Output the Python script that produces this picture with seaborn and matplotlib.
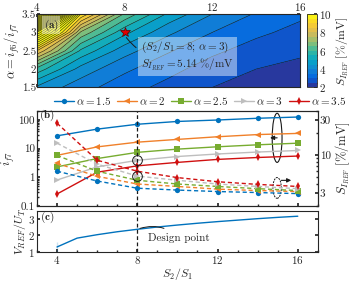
import numpy as np
import matplotlib
matplotlib.use("Agg")
import matplotlib.pyplot as plt
import seaborn as sns
from matplotlib.colors import LinearSegmentedColormap, Normalize
from matplotlib.patches import Ellipse
from matplotlib.ticker import MultipleLocator, LogLocator, NullFormatter

# --- data ---
ratio = [4, 6, 8, 10, 12, 14, 16]           # S2/S1
alphas = [1.5, 2, 2.5, 3, 3.5]
alpha_labels = [r"$\alpha = 1.5$", r"$\alpha = 2$", r"$\alpha = 2.5$", r"$\alpha = 3$", r"$\alpha = 3.5$"]

# i_f7 (left axis, solid)
if7_15 = [28, 48, 71, 89, 100, 115, 127]
if7_20 = [5.8, 11.5, 16.8, 21, 26, 31, 34]
if7_25 = [2.3, 4.5, 7.4, 9.6, 11.6, 13.6, 15.5]
if7_30 = [0.8, 2.3, 3.9, 5.3, 6.5, 7.6, 8.6]
if7_35 = [0.26, 1.5, 2.5, 3.3, 4.2, 4.9, 5.5]

# S_IREF [%/mV] (right axis, dashed)
s_15 = [6.0, 4.4, 3.5, 3.3, 3.15, 3.05, 2.95]
s_20 = [7.7, 5.1, 4.0, 3.7, 3.4, 3.25, 3.15]
s_25 = [9.9, 6.0, 4.5, 4.0, 3.7, 3.45, 3.25]
s_30 = [14.6, 7.5, 5.14, 4.5, 4.0, 3.7, 3.45]
s_35 = [27.5, 8.5, 6.0, 4.9, 4.3, 3.95, 3.7]

# contour map S_IREF(S2/S1, alpha), rows = alphas, cols = ratio
smap_15 = [4.4, 3.7, 3.2, 2.85, 2.5, 2.3, 2.15]
smap_20 = [5.8, 4.3, 3.6, 3.15, 2.78, 2.5, 2.35]
smap_25 = [8.5, 5.4, 4.2, 3.55, 3.1, 2.8, 2.6]
smap_30 = [13.0, 6.9, 5.14, 4.1, 3.5, 3.1, 2.85]
smap_35 = [22.0, 9.5, 6.4, 4.9, 4.0, 3.45, 3.1]

# V_REF/U_T
vref_x = [4, 4, 5, 6, 7, 8, 9, 10, 11, 12, 13, 14, 15, 16]
vref_y = [1.0, 1.56, 1.82, 2.03, 2.21, 2.36, 2.50, 2.62, 2.73, 2.83, 2.92, 3.01, 3.09, 3.16]

design_x, design_alpha, design_s, design_if7 = 8, 3, 5.14, 3.9

colors = ["#0072BD", "#F0802A", "#77AC30", "#BEBEBE", "#D01010"]
markers = ["o", "<", "s", ">", "d"]

sns.set_theme(style="ticks")
plt.rcParams["font.family"] = "serif"
plt.rcParams["font.serif"] = ["cmr10", "DejaVu Serif"]
plt.rcParams["mathtext.fontset"] = "cm"
plt.rcParams["axes.formatter.use_mathtext"] = True
plt.rcParams["font.size"] = 8
plt.rcParams["xtick.labelsize"] = 8
plt.rcParams["ytick.labelsize"] = 8
plt.rcParams["axes.linewidth"] = 0.8
plt.rcParams["xtick.direction"] = "in"
plt.rcParams["ytick.direction"] = "in"

parula = LinearSegmentedColormap.from_list("parula", [
    "#352a87", "#0363e1", "#1485d4", "#06a7c6", "#38b99e",
    "#92bf73", "#d9ba56", "#fcce2e", "#f9fb0e"])

fig = plt.figure(figsize=(3.52, 2.82), dpi=100)
axa = fig.add_axes([0.105, 0.69, 0.747, 0.26])
cax = fig.add_axes([0.872, 0.69, 0.028, 0.26])
axb = fig.add_axes([0.105, 0.27, 0.798, 0.335])
axc = fig.add_axes([0.105, 0.108, 0.798, 0.145])

# --- (a) contour map ---
Z = np.array([smap_15, smap_20, smap_25, smap_30, smap_35])
X, Y = np.meshgrid(ratio, alphas)
levels = np.arange(2, 22.5, 0.5)
norm = Normalize(vmin=2, vmax=10)
cf = axa.contourf(X, Y, Z, levels=levels, cmap=parula, norm=norm)
axa.contour(X, Y, Z, levels=levels, colors="k", linewidths=0.4)
axa.set_xlim(4, 16)
axa.set_ylim(1.5, 3.5)
axa.xaxis.tick_top()
axa.set_xticks([4, 8, 12, 16])
axa.xaxis.set_minor_locator(MultipleLocator(1))
axa.set_yticks([1.5, 2, 2.5, 3, 3.5])
axa.set_yticklabels(["1.5", "2", "2.5", "3", "3.5"])
axa.yaxis.set_minor_locator(MultipleLocator(0.1))
axa.tick_params(which="both", top=True, bottom=True, left=True, right=True, length=2.5, pad=0.5)
axa.tick_params(which="minor", length=1.5)
axa.set_ylabel(r"$\alpha = i_{f6}/i_{f7}$", fontsize=9, labelpad=0)
axa.text(4.3, 3.2, r"$\mathbf{(a)}$", fontsize=8, va="center",
         bbox=dict(boxstyle="square,pad=0.1", fc="white", ec="none", alpha=0.4))
axa.plot(design_x, design_alpha, marker="*", color="#E00000", markeredgecolor="#600000",
         markersize=7.5, markeredgewidth=0.5)
axa.annotate(r"$(S_2/S_1 = 8;\,\alpha = 3)$" + "\n" + r"$S_{I_{REF}} = 5.14\ \%/\mathrm{mV}$",
             xy=(design_x, design_alpha - 0.08), xytext=(8.75, 2.35),
             fontsize=8, va="center", ha="left",
             bbox=dict(boxstyle="square,pad=0.25", fc="white", ec="none", alpha=0.45),
             arrowprops=dict(arrowstyle="-", color="k", lw=0.7,
                             connectionstyle="arc3,rad=-0.35"))
cb = fig.colorbar(cf, cax=cax, ticks=[2, 4, 6, 8, 10])
cax.set_ylim(2, 10)
cax.tick_params(length=2, pad=1.5)
cax.yaxis.set_minor_locator(MultipleLocator(0.5))
cb.set_label(r"$S_{I_{REF}}\ [\%/\mathrm{mV}]$", fontsize=8.5, labelpad=2)
cb.outline.set_linewidth(0.6)

# --- (b) i_f7 and S_IREF ---
axb2 = axb.twinx()
if7_all = [if7_15, if7_20, if7_25, if7_30, if7_35]
s_all = [s_15, s_20, s_25, s_30, s_35]
for i in range(len(alphas)):
    sns.lineplot(x=ratio, y=if7_all[i], ax=axb, color=colors[i], marker=markers[i],
                 markersize=3.8, markeredgewidth=0, linewidth=1.0, label=alpha_labels[i])
    sns.lineplot(x=ratio, y=s_all[i], ax=axb2, color=colors[i], marker=markers[i],
                 markersize=3.8, markeredgewidth=0, linewidth=1.0, linestyle=(0, (3, 2)))
axb.set_yscale("log")
axb2.set_yscale("log")
axb.set_ylim(0.1, 200)
axb2.set_ylim(2, 40)
axb.set_xlim(3, 17)
axb.set_yticks([0.1, 1, 10, 100])
axb.set_yticklabels(["0.1", "1", "10", "100"])
axb.yaxis.set_minor_locator(LogLocator(base=10, subs=np.arange(2, 10)))
axb.yaxis.set_minor_formatter(NullFormatter())
axb2.set_yticks([3, 10, 30])
axb2.set_yticklabels(["3", "10", "30"])
axb2.yaxis.set_minor_locator(LogLocator(base=10, subs=np.arange(2, 10)))
axb2.yaxis.set_minor_formatter(NullFormatter())
axb.set_xticks([4, 8, 12, 16])
axb.set_xticklabels([])
axb.xaxis.set_minor_locator(MultipleLocator(1))
axb.tick_params(which="both", length=2.5, pad=1.5)
axb.tick_params(which="minor", length=1.5)
axb2.tick_params(which="both", direction="in", length=2.5, pad=1.5)
axb2.tick_params(which="minor", length=1.5)
axb.set_ylabel(r"$i_{f7}$", fontsize=9, labelpad=1)
axb2.set_ylabel(r"$S_{I_{REF}}\ [\%/\mathrm{mV}]$", fontsize=9, labelpad=2)
axb.axvline(design_x, color="k", linestyle=(0, (3, 2)), linewidth=0.9)
axb.plot(design_x, design_if7, marker="o", markersize=7, markerfacecolor="none",
         markeredgecolor="k", markeredgewidth=0.7)
axb2.plot(design_x, design_s, marker="o", markersize=7, markerfacecolor="none",
          markeredgecolor="k", markeredgewidth=0.7)
axb.text(3.1, 140, r"$\mathbf{(b)}$", fontsize=8, va="center")
axb.legend(loc="lower center", bbox_to_anchor=(0.58, 0.99), ncol=5, frameon=False,
           fontsize=8, handlelength=1.8, handletextpad=0.2, columnspacing=0.5,
           borderaxespad=0.1)
# loops with arrows marking which axis each line set belongs to
axb.add_patch(Ellipse((0.855, 0.72), 0.035, 0.52, transform=axb.transAxes,
                      fill=False, color="k", lw=0.8))
axb.annotate("", xy=(0.82, 0.72), xytext=(0.865, 0.72), xycoords="axes fraction",
             arrowprops=dict(arrowstyle="-|>", color="k", lw=0.8, mutation_scale=6))
axb.add_patch(Ellipse((0.855, 0.19), 0.03, 0.22, transform=axb.transAxes,
                      fill=False, color="k", lw=0.7, linestyle=(0, (2, 1))))
axb.annotate("", xy=(0.915, 0.27), xytext=(0.86, 0.27), xycoords="axes fraction",
             arrowprops=dict(arrowstyle="-|>", color="k", lw=0.8, mutation_scale=6))

# --- (c) V_REF/U_T ---
sns.lineplot(x=vref_x, y=vref_y, ax=axc, color=colors[0], linewidth=1.0, sort=False)
axc.set_xlim(3, 17)
axc.set_ylim(1, 3.5)
axc.set_yticks([1, 2, 3])
axc.set_xticks([4, 8, 12, 16])
axc.xaxis.set_minor_locator(MultipleLocator(1))
axc.tick_params(which="both", left=True, right=True, length=2.5, pad=1.5)
axc.tick_params(which="minor", length=1.5)
axc.axvline(design_x, color="k", linestyle=(0, (3, 2)), linewidth=0.9)
axc.text(3.15, 3.1, r"$\mathbf{(c)}$", fontsize=8, va="center")
axc.annotate("Design point", xy=(design_x, 2.36), xytext=(8.55, 1.85), fontsize=8,
             va="center", ha="left",
             arrowprops=dict(arrowstyle="-", color="k", lw=0.7,
                             connectionstyle="arc3,rad=0.3"))
axc.set_ylabel(r"$V_{REF}/U_T$", fontsize=8.5, labelpad=0)
axc.set_xlabel(r"$S_2/S_1$", fontsize=8.5, labelpad=0)

fig.savefig("out.png", dpi=100)
